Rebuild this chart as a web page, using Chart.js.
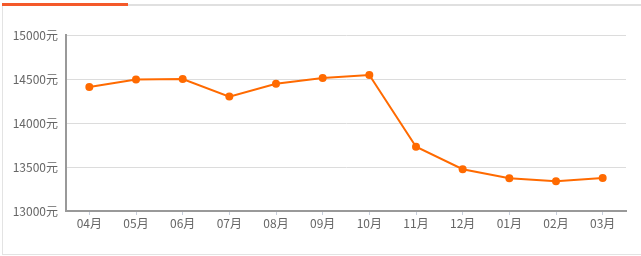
<!DOCTYPE html>
<html>
<head>
<meta charset="utf-8">
<script src="https://cdn.jsdelivr.net/npm/chart.js@4/dist/chart.umd.min.js"></script>
<style>
  html, body { margin: 0; padding: 0; background: #fff; }
  #wrap { position: relative; width: 641px; height: 256px; overflow: hidden; }
  #frame { position: absolute; left: 2px; top: 4px; width: 650px; height: 248px;
           border-left: 1px solid #e3e3e3; border-bottom: 1px solid #e3e3e3; border-top: 2px solid #e0e0e0; }
  #tab { position: absolute; left: 2px; top: 3px; width: 126px; height: 3px; background: #f4592a; }
  #chart { position: absolute; left: 0; top: 0; }
</style>
</head>
<body>
<div id="wrap">
  <div id="frame"></div>
  <div id="tab"></div>
  <canvas id="chart" width="641" height="256"></canvas>
</div>
<script>
// months shown on the x axis
const months = ['04月', '05月', '06月', '07月', '08月', '09月', '10月', '11月', '12月', '01月', '02月', '03月'];
// average price per month (元)
const prices = [14410, 14495, 14500, 14300, 14445, 14510, 14545, 13730, 13475, 13372, 13337, 13375];
// y axis ticks
const yTicks = [13000, 13500, 14000, 14500, 15000];

const font = { family: "'Noto Sans CJK SC', 'Noto Sans', sans-serif", size: 12 };

new Chart(document.getElementById('chart'), {
  type: 'line',
  data: {
    labels: months,
    datasets: [{
      data: prices,
      borderColor: '#ff6a00',
      backgroundColor: '#ff6a00',
      borderWidth: 2,
      pointRadius: 4,
      pointHoverRadius: 5,
      pointBorderWidth: 0,
      tension: 0
    }]
  },
  options: {
    responsive: false,
    animation: false,
    layout: { padding: { left: 0, right: 15, top: 35, bottom: 0 } },
    plugins: { legend: { display: false }, tooltip: { enabled: false } },
    scales: {
      x: {
        offset: true,
        grid: { offset: false, drawOnChartArea: false, drawTicks: true, tickLength: 4, color: '#c8cfdc' },
        border: { color: '#999', width: 2 },
        ticks: { color: '#666', font, padding: 1, maxRotation: 0, autoSkip: false },
        afterFit: s => { s.height = 45; }
      },
      y: {
        min: yTicks[0],
        max: yTicks[yTicks.length - 1],
        afterBuildTicks: s => { s.ticks = yTicks.map(v => ({ value: v })); },
        grid: { color: '#dcdcdc', drawTicks: false },
        border: { color: '#999', width: 2 },
        ticks: { color: '#666', font, padding: 8, callback: v => v + '元' },
        afterFit: s => { s.width = 66; }
      }
    }
  }
});
</script>
</body>
</html>
